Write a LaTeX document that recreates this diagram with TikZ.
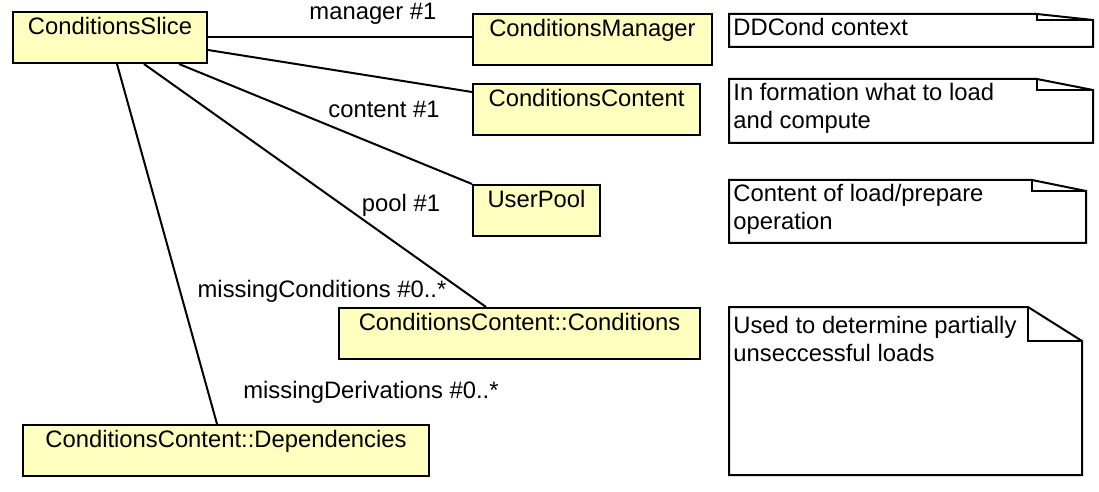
\documentclass[tikz,border=0pt]{standalone}
\usepackage{fontspec}
\setmainfont{Liberation Sans}
\definecolor{classfill}{HTML}{FFFFC0}
\begin{document}
\begin{tikzpicture}[x=0.5pt, y=-0.5pt, every node/.style={font=\fontsize{11.9}{14}\selectfont},
  classbox/.style={draw, line width=1pt, fill=classfill, inner xsep=0pt, inner ysep=0pt,
    text height=11.25pt, text depth=14.25pt, anchor=north west},
  notebox/.style={draw, line width=1pt},
  notetext/.style={anchor=north west, inner sep=0pt, align=left},
  rolelabel/.style={anchor=base, inner sep=0pt},
  assoc/.style={line width=1pt}]
  \useasboundingbox (0,0) rectangle (1099,492);
  \node[classbox, minimum width=97pt] (slice) at (12,11) {ConditionsSlice};
  \node[classbox, minimum width=119.5pt] (manager) at (472,13) {ConditionsManager};
  \node[classbox, minimum width=113.5pt] (content) at (472,83) {ConditionsContent};
  \node[classbox, minimum width=63.5pt] (pool) at (472,184) {UserPool};
  \node[classbox, minimum width=180.5pt] (conds) at (338,307) {ConditionsContent::Conditions};
  \node[classbox, minimum width=203pt] (deps) at (22,424) {ConditionsContent::Dependencies};
  \draw[assoc] (slice.east) -- (slice.east -| manager.west);
  \draw[assoc] ([yshift=-6.25pt]slice.east) -- ([yshift=8.75pt]content.west);
  \draw[assoc] ([xshift=34.5pt]slice.south) -- (pool.north west);
  \draw[assoc] ([xshift=17pt]slice.south) -- ([xshift=-16.75pt]conds.north);
  \draw[assoc] ([xshift=3.5pt]slice.south) -- ([xshift=-4.5pt]deps.north);
  \node[rolelabel] (lmanager) at (373,20) {manager \#1};
  \node[rolelabel] (lcontent) at (384,118) {content \#1};
  \node[rolelabel] (lpool) at (401,212) {pool \#1};
  \node[rolelabel] (lconds) at (322,298) {missingConditions \#0..*};
  \node[rolelabel] (lderivs) at (371,398) {missingDerivations \#0..*};
  \draw[notebox] (729,14) -- (1037,14) -- (1093,20) -- (1093,47) -- (729,47) -- cycle;
  \draw[notebox] (1037,14) |- (1093,20);
  \draw[notebox] (729,79) -- (1037,79) -- (1093,90) -- (1093,143) -- (729,143) -- cycle;
  \draw[notebox] (1037,79) |- (1093,90);
  \draw[notebox] (729,180) -- (1032,180) -- (1086,191) -- (1086,243) -- (729,243) -- cycle;
  \draw[notebox] (1032,180) |- (1086,191);
  \draw[notebox] (729,307) -- (1028,307) -- (1082,341) -- (1082,475) -- (729,475) -- cycle;
  \draw[notebox] (1028,307) |- (1082,341);
  \node[notetext] (ddcond) at (733,18) {DDCond context};
  \node[notetext] (loadinfo) at (733,83) {In formation what to load\\and compute};
  \node[notetext] (prepinfo) at (733,184) {Content of load/prepare\\operation};
  \node[notetext] (missinfo) at (733,316) {Used to determine partially\\unseccessful loads};
\end{tikzpicture}
\end{document}
